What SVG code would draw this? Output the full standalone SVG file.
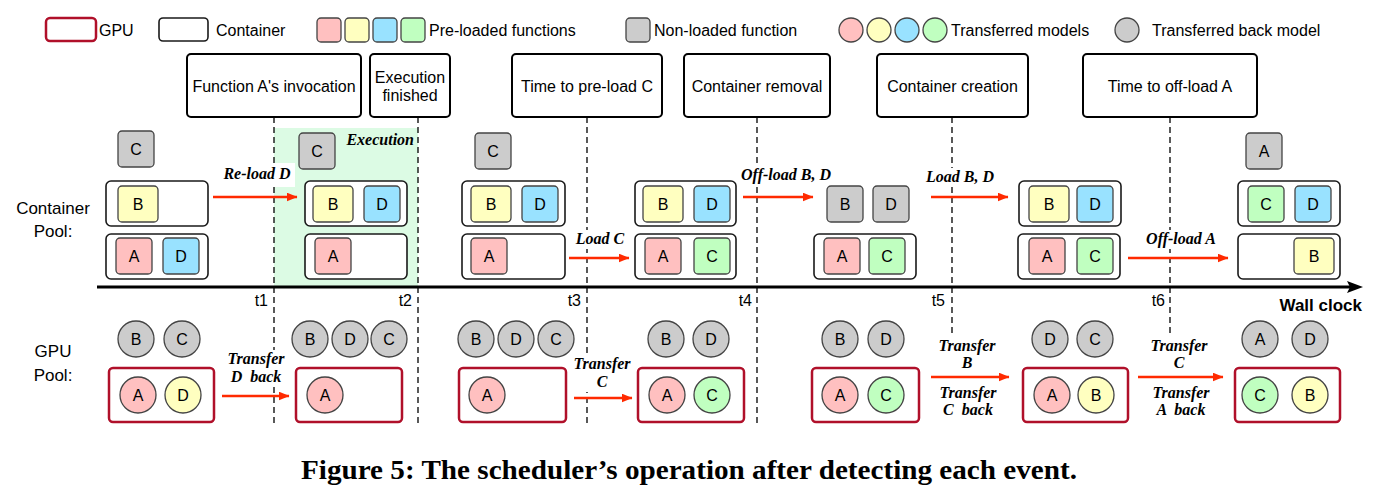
<svg xmlns="http://www.w3.org/2000/svg" width="1388" height="500" viewBox="0 0 1388 500">
<style>
text{font-family:"Liberation Sans",Arial,sans-serif;fill:#000}
.lg{font-size:16px}
.ev{fill:#fff;stroke:#000;stroke-width:2}
.evt{font-size:16px;text-anchor:middle}
.cont{fill:#fff;stroke:#1a1a1a;stroke-width:1.6}
.gpu{fill:#fff;stroke:#b0102a;stroke-width:2.5}
.sq{stroke:#444;stroke-width:1.3}
.pk{fill:#ffc0c0}.yl{fill:#ffffc0}.bl{fill:#99e2ff}.gr{fill:#c0ffc0}.gy{fill:#cccccc}
.lt{font-size:16px;text-anchor:middle}
.dash{stroke:#000;stroke-width:1.3;stroke-dasharray:6 4;fill:none}
.arr{stroke:#ff2a00;stroke-width:2.4;fill:none;marker-end:url(#ah)}
.al{font-family:"Liberation Serif","Times New Roman",serif;font-size:16px;font-weight:bold;font-style:italic;text-anchor:middle}
.bg{fill:#fff}
.row{font-size:17px;text-anchor:middle}
.tk{font-size:16px;text-anchor:end}
.cap{font-family:"Liberation Serif","Times New Roman",serif;font-size:27px;font-weight:bold;text-anchor:middle}
</style>
<defs>
<marker id="ah" markerWidth="11" markerHeight="9" refX="10.5" refY="4.5" orient="auto" markerUnits="userSpaceOnUse">
<path d="M0,0 L11,4.5 L0,9 Z" fill="#ff2a00"/>
</marker>
</defs>

<g id="legend">
<rect x="46" y="18" width="50" height="23" rx="4" class="gpu" stroke-width="2"/>
<text x="99" y="36" class="lg">GPU</text>
<rect x="159" y="18" width="49" height="23" rx="4" class="cont"/>
<text x="216" y="36" class="lg">Container</text>
<rect x="317" y="18" width="24" height="24" rx="4" class="sq pk"/>
<rect x="345" y="18" width="24" height="24" rx="4" class="sq yl"/>
<rect x="373" y="18" width="24" height="24" rx="4" class="sq bl"/>
<rect x="401" y="18" width="24" height="24" rx="4" class="sq gr"/>
<text x="429" y="36" class="lg">Pre-loaded functions</text>
<rect x="626" y="18" width="24" height="24" rx="4" class="sq gy"/>
<text x="654" y="36" class="lg">Non-loaded function</text>
<circle cx="851" cy="30" r="12" class="sq pk"/>
<circle cx="879" cy="30" r="12" class="sq yl"/>
<circle cx="907" cy="30" r="12" class="sq bl"/>
<circle cx="935" cy="30" r="12" class="sq gr"/>
<text x="951" y="36" class="lg">Transferred models</text>
<circle cx="1127" cy="30" r="12" class="sq gy"/>
<text x="1152" y="36" class="lg">Transferred back model</text>
</g>

<rect id="exec-region" x="274" y="128" width="144" height="159" fill="#dcfbe4"/>
<text x="414" y="145" class="al" style="text-anchor:end">Execution</text>

<g id="events">
<g id="ev1"><rect x="187" y="54" width="174" height="63" rx="4" class="ev"/><text x="274" y="92" class="evt">Function A's invocation</text></g>
<g id="ev2"><rect x="370" y="54" width="80" height="63" rx="4" class="ev"/><text x="410" y="83" class="evt">Execution</text><text x="410" y="101" class="evt">finished</text></g>
<g id="ev3"><rect x="512" y="54" width="150" height="63" rx="4" class="ev"/><text x="587" y="92" class="evt">Time to pre-load C</text></g>
<g id="ev4"><rect x="684" y="54" width="146" height="63" rx="4" class="ev"/><text x="757" y="92" class="evt">Container removal</text></g>
<g id="ev5"><rect x="877" y="54" width="151" height="63" rx="4" class="ev"/><text x="952.5" y="92" class="evt">Container creation</text></g>
<g id="ev6"><rect x="1083" y="54" width="174" height="63" rx="4" class="ev"/><text x="1170" y="92" class="evt">Time to off-load A</text></g>
</g>

<g id="timeline">
<line x1="274" y1="117" x2="274" y2="424" class="dash"/>
<line x1="418" y1="117" x2="418" y2="424" class="dash"/>
<line x1="587" y1="117" x2="587" y2="424" class="dash"/>
<line x1="757" y1="117" x2="757" y2="424" class="dash"/>
<line x1="952" y1="117" x2="952" y2="335" class="dash"/>
<line x1="1170" y1="117" x2="1170" y2="335" class="dash"/>
<line x1="97" y1="287" x2="1352" y2="287" stroke="#000" stroke-width="3"/>
<path d="M1347,281 L1363,287 L1347,293 L1350,287 Z" fill="#000"/>
<text x="268" y="306" class="tk">t1</text>
<text x="412" y="306" class="tk">t2</text>
<text x="581" y="306" class="tk">t3</text>
<text x="752" y="306" class="tk">t4</text>
<text x="945" y="306" class="tk">t5</text>
<text x="1165" y="306" class="tk">t6</text>
<text x="1362" y="311" style="font-size:17px;font-weight:bold;text-anchor:end">Wall clock</text>
</g>

<g id="row-labels">
<text x="53" y="214" class="row">Container</text>
<text x="53" y="237" class="row">Pool:</text>
<text x="53" y="357" class="row">GPU</text>
<text x="53" y="381" class="row">Pool:</text>
</g>

<g id="connectors">
<rect x="222" y="163" width="73" height="24" class="bg"/>
<text x="257" y="179" class="al">Re-load D</text>
<line x1="213" y1="197" x2="297" y2="197" class="arr"/>
<rect x="574" y="230" width="52" height="19" class="bg"/>
<text x="600" y="244" class="al">Load C</text>
<line x1="569" y1="258" x2="629" y2="258" class="arr"/>
<rect x="740" y="166" width="93" height="19" class="bg"/>
<text x="786" y="180" class="al">Off-load B, D</text>
<line x1="743" y1="197" x2="813" y2="197" class="arr"/>
<rect x="924" y="168" width="72" height="19" class="bg"/>
<text x="960" y="182" class="al">Load B, D</text>
<line x1="931" y1="197" x2="1008" y2="197" class="arr"/>
<rect x="1145" y="230" width="72" height="19" class="bg"/>
<text x="1181" y="244" class="al">Off-load A</text>
<line x1="1128" y1="258" x2="1228" y2="258" class="arr"/>
<rect x="226" y="350" width="60" height="37" class="bg"/>
<text x="256" y="364" class="al">Transfer</text>
<text x="256" y="382" class="al" xml:space="preserve">D  back</text>
<line x1="222" y1="396" x2="289" y2="396" class="arr"/>
<rect x="572" y="355" width="59" height="37" class="bg"/>
<text x="602" y="369" class="al">Transfer</text>
<text x="602" y="387" class="al">C</text>
<line x1="574" y1="398" x2="632" y2="398" class="arr"/>
<text x="967" y="351" class="al">Transfer</text>
<text x="967" y="368" class="al">B</text>
<line x1="931" y1="377" x2="1009" y2="377" class="arr"/>
<text x="968" y="398" class="al">Transfer</text>
<text x="968" y="415" class="al" xml:space="preserve">C  back</text>
<text x="1179" y="351" class="al">Transfer</text>
<text x="1179" y="368" class="al">C</text>
<line x1="1138" y1="377" x2="1223" y2="377" class="arr"/>
<text x="1181" y="398" class="al">Transfer</text>
<text x="1181" y="415" class="al" xml:space="preserve">A  back</text>
</g>

<g id="cp1">
<rect x="118" y="131" width="36" height="36" rx="4" class="sq gy"/><text x="136" y="155" class="lt">C</text>
<rect x="106" y="181" width="102" height="45" rx="5" class="cont"/>
<rect x="118" y="186" width="40" height="36" rx="4" class="sq yl"/><text x="138" y="210" class="lt">B</text>
<rect x="106" y="234" width="102" height="45" rx="5" class="cont"/>
<rect x="116" y="238" width="36" height="36" rx="4" class="sq pk"/><text x="134" y="262" class="lt">A</text>
<rect x="163" y="238" width="36" height="36" rx="4" class="sq bl"/><text x="181" y="262" class="lt">D</text>
</g>
<g id="cp2">
<rect x="299" y="133" width="36" height="36" rx="4" class="sq gy"/><text x="317" y="157" class="lt">C</text>
<rect x="305" y="181" width="102" height="45" rx="5" class="cont"/>
<rect x="313" y="186" width="40" height="36" rx="4" class="sq yl"/><text x="333" y="210" class="lt">B</text>
<rect x="364" y="186" width="36" height="36" rx="4" class="sq bl"/><text x="382" y="210" class="lt">D</text>
<rect x="305" y="234" width="102" height="45" rx="5" class="cont"/>
<rect x="315" y="238" width="36" height="36" rx="4" class="sq pk"/><text x="333" y="262" class="lt">A</text>
</g>
<g id="cp3">
<rect x="475" y="133" width="36" height="36" rx="4" class="sq gy"/><text x="493" y="157" class="lt">C</text>
<rect x="462" y="181" width="103" height="45" rx="5" class="cont"/>
<rect x="471" y="186" width="40" height="36" rx="4" class="sq yl"/><text x="491" y="210" class="lt">B</text>
<rect x="522" y="186" width="36" height="36" rx="4" class="sq bl"/><text x="540" y="210" class="lt">D</text>
<rect x="462" y="234" width="103" height="45" rx="5" class="cont"/>
<rect x="471" y="238" width="36" height="36" rx="4" class="sq pk"/><text x="489" y="262" class="lt">A</text>
</g>
<g id="cp4">
<rect x="635" y="181" width="101" height="45" rx="5" class="cont"/>
<rect x="643" y="186" width="40" height="36" rx="4" class="sq yl"/><text x="663" y="210" class="lt">B</text>
<rect x="694" y="186" width="36" height="36" rx="4" class="sq bl"/><text x="712" y="210" class="lt">D</text>
<rect x="635" y="234" width="101" height="45" rx="5" class="cont"/>
<rect x="645" y="238" width="36" height="36" rx="4" class="sq pk"/><text x="663" y="262" class="lt">A</text>
<rect x="694" y="238" width="36" height="36" rx="4" class="sq gr"/><text x="712" y="262" class="lt">C</text>
</g>
<g id="cp5">
<rect x="827" y="186" width="36" height="36" rx="4" class="sq gy"/><text x="845" y="210" class="lt">B</text>
<rect x="873" y="186" width="36" height="36" rx="4" class="sq gy"/><text x="891" y="210" class="lt">D</text>
<rect x="814" y="234" width="102" height="45" rx="5" class="cont"/>
<rect x="824" y="238" width="36" height="36" rx="4" class="sq pk"/><text x="842" y="262" class="lt">A</text>
<rect x="869" y="238" width="36" height="36" rx="4" class="sq gr"/><text x="887" y="262" class="lt">C</text>
</g>
<g id="cp6">
<rect x="1019" y="181" width="102" height="45" rx="5" class="cont"/>
<rect x="1029" y="186" width="40" height="36" rx="4" class="sq yl"/><text x="1049" y="210" class="lt">B</text>
<rect x="1077" y="186" width="36" height="36" rx="4" class="sq bl"/><text x="1095" y="210" class="lt">D</text>
<rect x="1018" y="234" width="102" height="45" rx="5" class="cont"/>
<rect x="1029" y="238" width="36" height="36" rx="4" class="sq pk"/><text x="1047" y="262" class="lt">A</text>
<rect x="1077" y="238" width="36" height="36" rx="4" class="sq gr"/><text x="1095" y="262" class="lt">C</text>
</g>
<g id="cp7">
<rect x="1246" y="133" width="36" height="36" rx="4" class="sq gy"/><text x="1264" y="157" class="lt">A</text>
<rect x="1238" y="181" width="102" height="45" rx="5" class="cont"/>
<rect x="1248" y="186" width="36" height="36" rx="4" class="sq gr"/><text x="1266" y="210" class="lt">C</text>
<rect x="1295" y="186" width="36" height="36" rx="4" class="sq bl"/><text x="1313" y="210" class="lt">D</text>
<rect x="1238" y="234" width="102" height="45" rx="5" class="cont"/>
<rect x="1294" y="238" width="40" height="36" rx="4" class="sq yl"/><text x="1314" y="262" class="lt">B</text>
</g>

<g id="gp1">
<circle cx="136" cy="339" r="18" class="sq gy"/><text x="136" y="345" class="lt">B</text>
<circle cx="182" cy="339" r="18" class="sq gy"/><text x="182" y="345" class="lt">C</text>
<rect x="109" y="368" width="105" height="54" rx="4" class="gpu"/>
<circle cx="138" cy="395" r="18" class="sq pk"/><text x="138" y="401" class="lt">A</text>
<circle cx="183" cy="395" r="18" class="sq yl"/><text x="183" y="401" class="lt">D</text>
</g>
<g id="gp2">
<circle cx="310" cy="339" r="18" class="sq gy"/><text x="310" y="345" class="lt">B</text>
<circle cx="350" cy="339" r="18" class="sq gy"/><text x="350" y="345" class="lt">D</text>
<circle cx="389" cy="339" r="18" class="sq gy"/><text x="389" y="345" class="lt">C</text>
<rect x="296" y="368" width="106" height="54" rx="4" class="gpu"/>
<circle cx="325" cy="395" r="18" class="sq pk"/><text x="325" y="401" class="lt">A</text>
</g>
<g id="gp3">
<circle cx="476" cy="339" r="18" class="sq gy"/><text x="476" y="345" class="lt">B</text>
<circle cx="516" cy="339" r="18" class="sq gy"/><text x="516" y="345" class="lt">D</text>
<circle cx="556" cy="339" r="18" class="sq gy"/><text x="556" y="345" class="lt">C</text>
<rect x="459" y="368" width="107" height="54" rx="4" class="gpu"/>
<circle cx="487" cy="395" r="18" class="sq pk"/><text x="487" y="401" class="lt">A</text>
</g>
<g id="gp4">
<circle cx="666" cy="339" r="18" class="sq gy"/><text x="666" y="345" class="lt">B</text>
<circle cx="711" cy="339" r="18" class="sq gy"/><text x="711" y="345" class="lt">D</text>
<rect x="638" y="368" width="106" height="54" rx="4" class="gpu"/>
<circle cx="667" cy="395" r="18" class="sq pk"/><text x="667" y="401" class="lt">A</text>
<circle cx="712" cy="395" r="18" class="sq gr"/><text x="712" y="401" class="lt">C</text>
</g>
<g id="gp5">
<circle cx="840" cy="339" r="18" class="sq gy"/><text x="840" y="345" class="lt">B</text>
<circle cx="886" cy="339" r="18" class="sq gy"/><text x="886" y="345" class="lt">D</text>
<rect x="812" y="368" width="107" height="54" rx="4" class="gpu"/>
<circle cx="840" cy="395" r="18" class="sq pk"/><text x="840" y="401" class="lt">A</text>
<circle cx="886" cy="395" r="18" class="sq gr"/><text x="886" y="401" class="lt">C</text>
</g>
<g id="gp6">
<circle cx="1050" cy="339" r="18" class="sq gy"/><text x="1050" y="345" class="lt">D</text>
<circle cx="1095" cy="339" r="18" class="sq gy"/><text x="1095" y="345" class="lt">C</text>
<rect x="1023" y="368" width="105" height="54" rx="4" class="gpu"/>
<circle cx="1052" cy="395" r="18" class="sq pk"/><text x="1052" y="401" class="lt">A</text>
<circle cx="1096" cy="395" r="18" class="sq yl"/><text x="1096" y="401" class="lt">B</text>
</g>
<g id="gp7">
<circle cx="1260" cy="339" r="18" class="sq gy"/><text x="1260" y="345" class="lt">A</text>
<circle cx="1310" cy="339" r="18" class="sq gy"/><text x="1310" y="345" class="lt">D</text>
<rect x="1235" y="368" width="105" height="54" rx="4" class="gpu"/>
<circle cx="1260" cy="395" r="18" class="sq gr"/><text x="1260" y="401" class="lt">C</text>
<circle cx="1310" cy="395" r="18" class="sq yl"/><text x="1310" y="401" class="lt">B</text>
</g>

<text x="689" y="479" class="cap" textLength="776" lengthAdjust="spacingAndGlyphs">Figure 5: The scheduler’s operation after detecting each event.</text>
</svg>
